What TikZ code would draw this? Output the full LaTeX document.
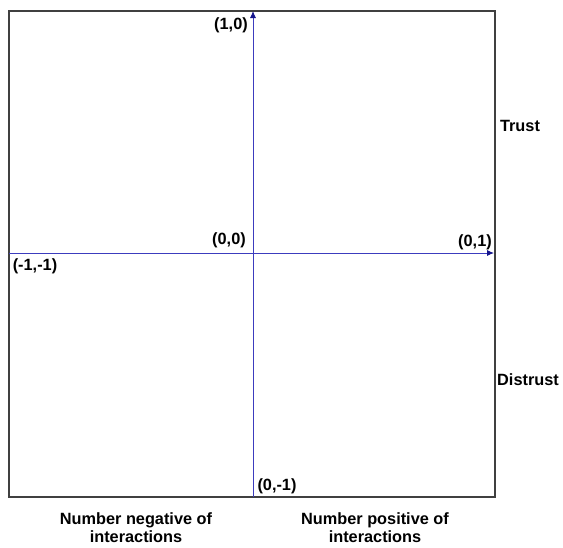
\documentclass[tikz,border=0pt]{standalone}
\usepackage{fontspec}
\setmainfont{Liberation Sans}
\usetikzlibrary{arrows.meta}
\definecolor{axisblue}{RGB}{60,60,190}
\definecolor{tipblue}{RGB}{20,20,140}
\definecolor{boxgray}{RGB}{64,64,64}
\tikzset{
  lbl/.style={font=\fontsize{16.3}{17}\selectfont\bfseries, inner sep=0pt},
  axis/.style={draw=axisblue, line width=0.9pt, -{Latex[length=7pt,width=6pt,color=tipblue]}},
}
\begin{document}
\begin{tikzpicture}[x=1pt,y=-1pt]
\useasboundingbox (0,0) rectangle (563,547);
\draw[boxgray, line width=1.4pt] (9,11) rectangle (495,497);
\coordinate (vbot) at (253,497);
\coordinate (vtop) at (253,11);
\coordinate (hleft) at (9,253);
\coordinate (hright) at (494,253);
\draw[axis] (vbot) -- (vtop);
\draw[axis] (hleft) -- (hright);
\node[lbl] (p10) at (231,25) {(1,0)};
\node[lbl] (m11) at (35,266) {(-1,-1)};
\node[lbl] (o00) at (229,240) {(0,0)};
\node[lbl] (p01) at (475,242) {(0,1)};
\node[lbl] (m01) at (277,486) {(0,-1)};
\node[lbl] (trust) at (520,126) {Trust};
\node[lbl] (distrust) at (528,380) {Distrust};
\node[lbl, align=center] (neg) at (136,528) {Number negative of\\[1pt]interactions};
\node[lbl, align=center] (pos) at (375,528) {Number positive of\\[1pt]interactions};
\end{tikzpicture}
\end{document}
